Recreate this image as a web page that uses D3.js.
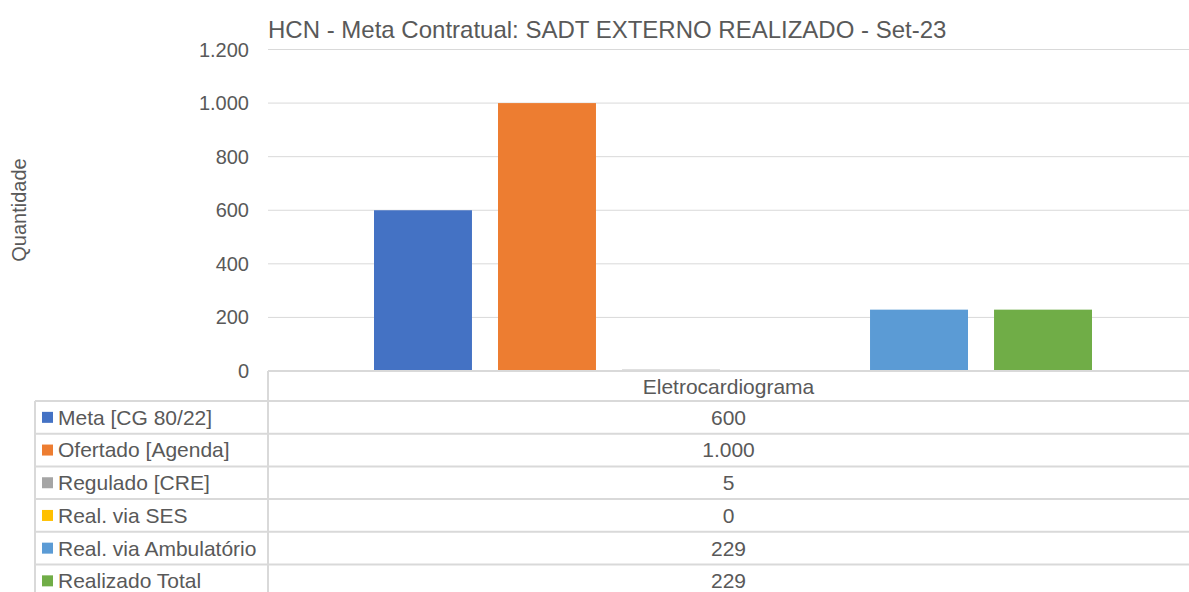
<!DOCTYPE html>
<html>
<head>
<meta charset="utf-8">
<script src="https://cdn.jsdelivr.net/npm/d3@7"></script>
<style>
  body { margin: 0; background: #fff; }
  svg { font-family: "Liberation Sans", Arial, sans-serif; }
</style>
</head>
<body>
<div id="chart"></div>
<script>
const title = 'HCN - Meta Contratual: SADT EXTERNO REALIZADO - Set-23';
const categories = ['Eletrocardiograma'];
const seriesNames = ['Meta [CG 80/22]', 'Ofertado [Agenda]', 'Regulado [CRE]', 'Real. via SES', 'Real. via Ambulatório', 'Realizado Total'];
const seriesColors = ['#4472C4', '#ED7D31', '#A5A5A5', '#FFC000', '#5B9BD5', '#70AD47'];
const seriesValues = [600, 1000, 5, 0, 229, 229];
const yTicks = [0, 200, 400, 600, 800, 1000, 1200];

const width = 1189, height = 592;
const plot = { left: 268, right: 1189, top: 49.5, bottom: 371 };
const tableLeft = 35, headerH = 30, rowH = 32.7;

const locale = d3.formatLocale({ decimal: ',', thousands: '.', grouping: [3], currency: ['R$', ''] });
const fmt = locale.format(',d');

const svg = d3.select('#chart').append('svg')
  .attr('width', width)
  .attr('height', height);

const x0 = d3.scaleBand().domain(categories).range([plot.left, plot.right]);
// bars sit inside the category band, leaving a gap on each side
const x1 = d3.scaleBand().domain(seriesNames).range([106, 824]).paddingInner(0.21).paddingOuter(0);
const y = d3.scaleLinear().domain([0, 1200]).range([plot.bottom, plot.top]);

// gridlines
svg.append('g')
  .selectAll('line')
  .data(yTicks.filter(d => d > 0))
  .join('line')
  .attr('x1', plot.left).attr('x2', plot.right)
  .attr('y1', d => y(d)).attr('y2', d => y(d))
  .attr('stroke', '#D9D9D9').attr('stroke-width', 1);

// y tick labels
svg.append('g')
  .selectAll('text')
  .data(yTicks)
  .join('text')
  .attr('x', 249)
  .attr('y', d => y(d))
  .attr('dy', '0.35em')
  .attr('text-anchor', 'end')
  .attr('fill', '#595959')
  .style('font-size', '20px')
  .text(d => fmt(d));

// bars
const data = seriesNames.map((name, i) => ({ name, value: seriesValues[i], color: seriesColors[i], cat: categories[0] }));
svg.append('g')
  .selectAll('rect')
  .data(data)
  .join('rect')
  .attr('x', d => x0(d.cat) + x1(d.name))
  .attr('width', x1.bandwidth())
  .attr('y', d => y(d.value))
  .attr('height', d => y(0) - y(d.value))
  .attr('fill', d => d.color);

// data table
const tbl = svg.append('g').attr('stroke', '#D9D9D9').attr('stroke-width', 2);
tbl.append('line')
  .attr('x1', plot.left).attr('x2', plot.right)
  .attr('y1', plot.bottom).attr('y2', plot.bottom);
const rowTops = d3.range(seriesNames.length + 1).map(i => plot.bottom + headerH + i * rowH);
tbl.selectAll('line.row')
  .data(rowTops)
  .join('line')
  .attr('class', 'row')
  .attr('x1', tableLeft).attr('x2', plot.right)
  .attr('y1', d => d).attr('y2', d => d);
tbl.append('line')
  .attr('x1', plot.left).attr('x2', plot.left)
  .attr('y1', plot.bottom).attr('y2', height + 10);
tbl.append('line')
  .attr('x1', tableLeft).attr('x2', tableLeft)
  .attr('y1', plot.bottom + headerH).attr('y2', height + 10);

// header category label
svg.append('text')
  .attr('x', x0(categories[0]) + x0.bandwidth() / 2)
  .attr('y', plot.bottom + headerH / 2 + 1)
  .attr('dy', '0.35em')
  .attr('text-anchor', 'middle')
  .attr('fill', '#595959')
  .style('font-size', '21px')
  .text(categories[0]);

// rows: legend key + name + value
const rows = svg.append('g')
  .selectAll('g')
  .data(data)
  .join('g')
  .attr('transform', (d, i) => `translate(0,${plot.bottom + headerH + i * rowH + rowH / 2})`);

rows.append('rect')
  .attr('x', 42).attr('y', -5.5)
  .attr('width', 11).attr('height', 11)
  .attr('fill', d => d.color);

rows.append('text')
  .attr('x', 58)
  .attr('dy', '0.35em')
  .attr('fill', '#595959')
  .style('font-size', '21px')
  .text(d => d.name);

rows.append('text')
  .attr('x', x0(categories[0]) + x0.bandwidth() / 2)
  .attr('dy', '0.35em')
  .attr('text-anchor', 'middle')
  .attr('fill', '#595959')
  .style('font-size', '21px')
  .text(d => fmt(d.value));

// title
svg.append('text')
  .attr('x', 268)
  .attr('y', 38)
  .attr('fill', '#595959')
  .style('font-size', '24px')
  .text(title);

// y axis title
svg.append('text')
  .attr('transform', `translate(26,210) rotate(-90)`)
  .attr('text-anchor', 'middle')
  .attr('fill', '#595959')
  .style('font-size', '20px')
  .text('Quantidade');
</script>
</body>
</html>
